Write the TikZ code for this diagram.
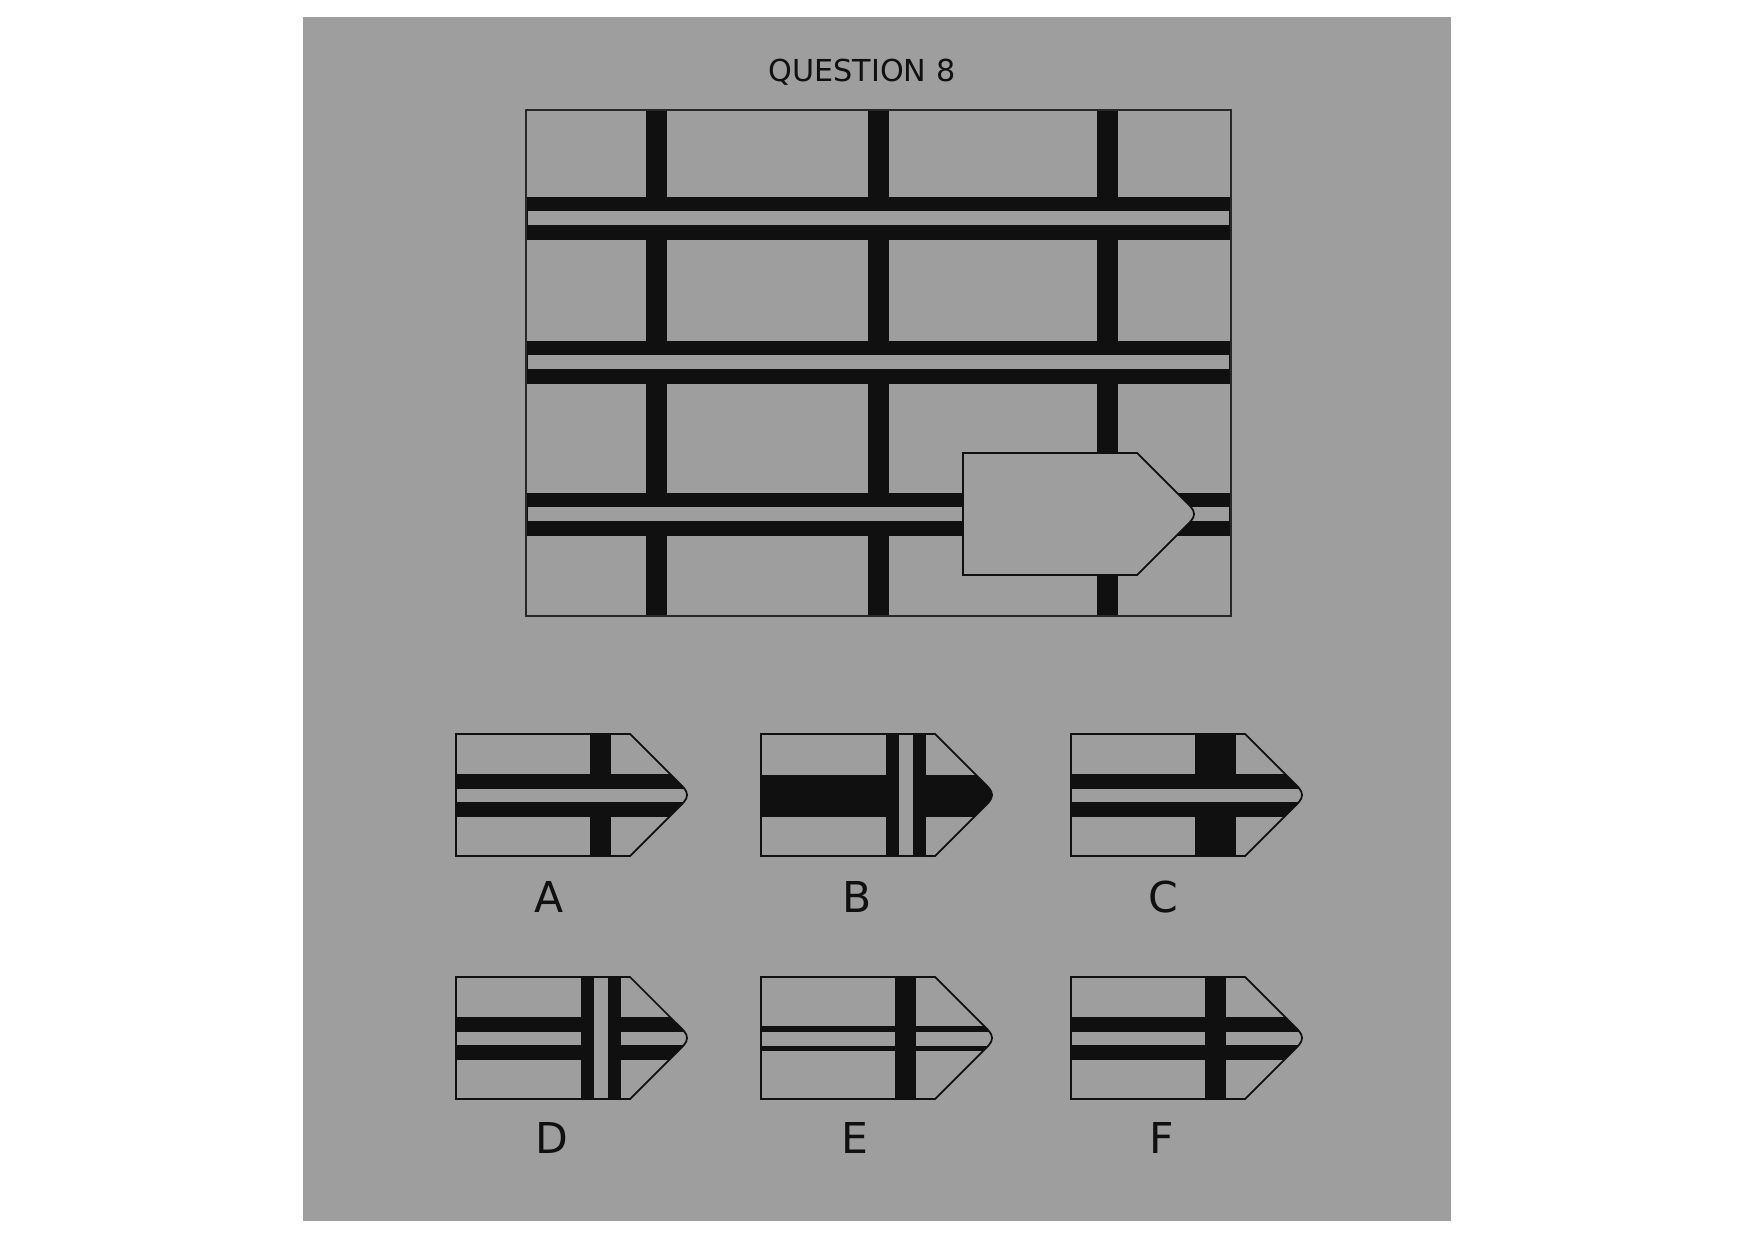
\documentclass[tikz,border=0pt]{standalone}
\usepackage{fontspec}
\setmainfont{DejaVu Sans}

\definecolor{qgray}{RGB}{158,158,158}
\definecolor{qblack}{RGB}{16,16,16}

% outline of a piece (local pixel coordinates, top left corner at origin)
\def\piecepath{(0,0) -- (174,0) -- (220,46) .. controls (227,53) and (231,56) .. (231,61) .. controls (231,66) and (227,69) .. (220,76) -- (174,122) -- (0,122) -- cycle}

% one answer piece: #1 x, #2 y, #3 stripes inside
\newcommand{\optionpiece}[3]{%
  \begin{scope}[shift={(#1,#2)}]
    \fill[qgray] \piecepath;
    \begin{scope}
      \clip \piecepath;
      #3
    \end{scope}
    \draw[outline] \piecepath;
  \end{scope}}

\begin{document}
\begin{tikzpicture}[x=0.1mm, y=-0.1mm,
  stripe/.style={fill=qblack},
  slit/.style={fill=qgray},
  outline/.style={draw=qblack, line width=0.5pt},
  frame/.style={draw=qblack!90!white, line width=0.55pt},
  letter/.style={text=qblack, anchor=base, inner sep=0pt, font=\fontsize{12.1}{14}\selectfont}]

  % Draw the page and the grey card
  \useasboundingbox (0,0) rectangle (1754,1241);
  \fill[white] (0,0) rectangle (1754,1241);
  \fill[qgray] (303,17) rectangle (1451,1221);

  % Draw the title
  \node[letter, font=\fontsize{8.6}{10}\selectfont] (title) at (862,82) {QUESTION 8};

  % Draw the big grid
  \foreach \x in {646,868,1097}
    \fill[stripe] (\x,110) rectangle (\x+21,616); % vertical bars
  \foreach \y in {197,341,493} {
    \fill[stripe] (526,\y) rectangle (1231,\y+43); % double bands
    \fill[slit] (528,\y+14.5) rectangle (1229,\y+28);
  }
  \draw[frame] (526,110) rectangle (1231,616);

  % Draw the missing piece
  \begin{scope}[shift={(963,453)}]
    \fill[qgray] \piecepath;
    \draw[outline] \piecepath;
  \end{scope}

  % Draw the six options
  \optionpiece{456}{734}{% A
    \fill[stripe] (134,0) rectangle (155,122);
    \fill[stripe] (0,40) rectangle (240,83);
    \fill[slit] (0,54.5) rectangle (240,68);}
  \optionpiece{761}{734}{% B
    \fill[stripe] (0,40.5) rectangle (240,83);
    \fill[stripe] (125,0) rectangle (165,122);
    \fill[slit] (138.3,0) rectangle (151.7,122);}
  \optionpiece{1071}{734}{% C
    \fill[stripe] (124,0) rectangle (165,122);
    \fill[stripe] (0,40) rectangle (240,83);
    \fill[slit] (0,54.5) rectangle (240,68);}
  \optionpiece{456}{977}{% D
    \fill[stripe] (0,40) rectangle (240,83);
    \fill[slit] (0,54.5) rectangle (240,68);
    \fill[stripe] (125,0) rectangle (165,122);
    \fill[slit] (138.3,0) rectangle (151.7,122);}
  \optionpiece{761}{977}{% E
    \fill[stripe] (0,48.7) rectangle (240,74.4);
    \fill[slit] (0,55) rectangle (240,68.7);
    \fill[stripe] (134,0) rectangle (155,122);}
  \optionpiece{1071}{977}{% F
    \fill[stripe] (0,40) rectangle (240,83);
    \fill[slit] (0,54.5) rectangle (240,68);
    \fill[stripe] (134,0) rectangle (155,122);}

  % Draw the letters
  \node[letter] (labA) at (549,912) {A};
  \node[letter] (labB) at (857,912) {B};
  \node[letter] (labC) at (1163,912) {C};
  \node[letter] (labD) at (552,1153) {D};
  \node[letter] (labE) at (855,1153) {E};
  \node[letter] (labF) at (1162,1153) {F};

\end{tikzpicture}
\end{document}
